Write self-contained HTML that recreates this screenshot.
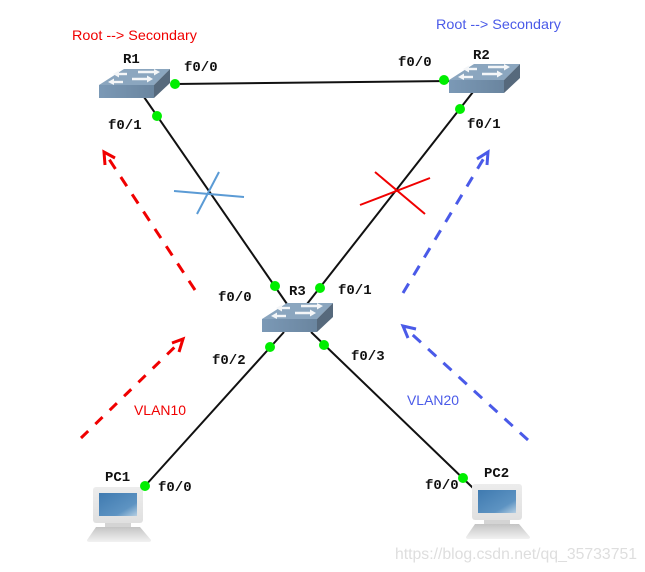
<!DOCTYPE html>
<html>
<head>
<meta charset="utf-8">
<style>
html,body{margin:0;padding:0;background:#fff}
svg{display:block}
.m{font-family:"Liberation Mono",monospace;font-weight:bold;font-size:14px;fill:#111}
.s{font-family:"Liberation Sans",sans-serif;font-size:14px}
</style>
</head>
<body>
<svg width="645" height="572" viewBox="0 0 645 572" xmlns="http://www.w3.org/2000/svg">
<defs>
<linearGradient id="f" x1="0" y1="0" x2="1" y2="0"><stop offset="0" stop-color="#7b99b6"/><stop offset="1" stop-color="#6a859f"/></linearGradient>
<linearGradient id="sc" x1="0" y1="0" x2="1" y2="1"><stop offset="0" stop-color="#3f7ab0"/><stop offset="0.7" stop-color="#5d93c2"/><stop offset="1" stop-color="#b5cfe3"/></linearGradient>
<linearGradient id="b" x1="0" y1="0" x2="0" y2="1"><stop offset="0" stop-color="#c4c4c4"/><stop offset="1" stop-color="#f2f2f2"/></linearGradient>
<linearGradient id="mon" x1="0" y1="0" x2="0" y2="1"><stop offset="0" stop-color="#ececec"/><stop offset="1" stop-color="#e0e0e0"/></linearGradient>
<g id="sw">
<polygon points="0,16 25,0 71,0 55,16" fill="#8ba6bf"/>
<polygon points="55,16 71,0 71,14 55,29" fill="#56697c"/>
<polygon points="0,16 55,16 55,29 0,29" fill="url(#f)"/>
<g stroke="#f4f6f8" stroke-width="2.4" fill="none">
<line x1="18" y1="5" x2="28" y2="5"/>
<line x1="39" y1="3" x2="57" y2="3"/>
<line x1="13" y1="13" x2="24" y2="13"/>
<line x1="33" y1="10" x2="50" y2="10"/>
</g>
<g fill="#f4f6f8">
<polygon points="14,5 20,1.5 20,8.5"/>
<polygon points="61,3 55,0 55,6.5"/>
<polygon points="9,13 15,9.5 15,16"/>
<polygon points="54,10 48,6.5 48,13.5"/>
</g>
</g>
<g id="pc">
<rect x="0" y="0" width="50" height="36" rx="3" fill="url(#mon)"/>
<rect x="6" y="6" width="38" height="23" fill="url(#sc)"/>
<rect x="12" y="36" width="26" height="4" fill="#d4d4d4"/>
<path d="M3,40 L47,40 L58,53 Q58,55 56,55 L-4,55 Q-6,55 -6,53 Z" fill="url(#b)"/>
</g>
</defs>

<g stroke="#111" stroke-width="2" fill="none">
<line x1="175" y1="84" x2="450" y2="81"/>
<line x1="144" y1="97" x2="287" y2="304"/>
<line x1="473" y1="92" x2="307" y2="304"/>
<line x1="284" y1="332" x2="145" y2="486"/>
<line x1="311" y1="332" x2="473" y2="488"/>
</g>

<use href="#sw" x="99" y="69"/>
<use href="#sw" x="449" y="64"/>
<use href="#sw" x="262" y="303"/>
<use href="#pc" x="93" y="487"/>
<use href="#pc" x="472" y="484"/>

<g fill="#00ee00">
<circle cx="175" cy="84" r="5"/>
<circle cx="157" cy="116" r="5"/>
<circle cx="444" cy="80" r="5"/>
<circle cx="460" cy="109" r="5"/>
<circle cx="275" cy="286" r="5"/>
<circle cx="320" cy="288" r="5"/>
<circle cx="270" cy="347" r="5"/>
<circle cx="324" cy="345" r="5"/>
<circle cx="145" cy="486" r="5"/>
<circle cx="463" cy="478" r="5"/>
</g>

<g stroke="#5b9bd5" stroke-width="2">
<line x1="174" y1="191" x2="244" y2="197"/>
<line x1="219" y1="172" x2="197" y2="214"/>
</g>
<g stroke="#f00000" stroke-width="2">
<line x1="360" y1="205" x2="430" y2="178"/>
<line x1="375" y1="172" x2="425" y2="214"/>
</g>

<g stroke="#f00000" stroke-width="3" fill="none">
<line x1="195" y1="290" x2="105" y2="153" stroke-dasharray="11 9.7"/>
<polyline points="105,165 104,152 115,158"/>
<line x1="81" y1="438" x2="182" y2="340" stroke-dasharray="10 10"/>
<polyline points="172,343 183,339 179,352"/>
</g>
<g stroke="#4a5ae8" stroke-width="3" fill="none">
<line x1="403" y1="293" x2="487" y2="153" stroke-dasharray="11 9.7"/>
<polyline points="477,159 488,152 487,165"/>
<line x1="528" y1="440" x2="404" y2="327" stroke-dasharray="11 9.7"/>
<polyline points="416,329 403,326 408,338"/>
</g>

<text class="m" x="123" y="63">R1</text>
<text class="m" x="184" y="71">f0/0</text>
<text class="m" x="108" y="129">f0/1</text>
<text class="m" x="473" y="59">R2</text>
<text class="m" x="398" y="66">f0/0</text>
<text class="m" x="467" y="128">f0/1</text>
<text class="m" x="289" y="295">R3</text>
<text class="m" x="218" y="301">f0/0</text>
<text class="m" x="338" y="294">f0/1</text>
<text class="m" x="212" y="364">f0/2</text>
<text class="m" x="351" y="360">f0/3</text>
<text class="m" x="105" y="481">PC1</text>
<text class="m" x="158" y="491">f0/0</text>
<text class="m" x="484" y="477">PC2</text>
<text class="m" x="425" y="489">f0/0</text>

<text class="s" x="72" y="40" fill="#f00000" textLength="125" lengthAdjust="spacingAndGlyphs">Root --&gt; Secondary</text>
<text class="s" x="436" y="29" fill="#4a5ae8" textLength="125" lengthAdjust="spacingAndGlyphs">Root --&gt; Secondary</text>
<text class="s" x="134" y="415" fill="#f00000" textLength="52" lengthAdjust="spacingAndGlyphs">VLAN10</text>
<text class="s" x="407" y="405" fill="#4a5ae8" textLength="52" lengthAdjust="spacingAndGlyphs">VLAN20</text>

<text x="395" y="559" font-family="'Liberation Sans',sans-serif" font-size="16" fill="#dedede" textLength="242" lengthAdjust="spacingAndGlyphs">https://blog.csdn.net/qq_35733751</text>
</svg>
</body>
</html>
